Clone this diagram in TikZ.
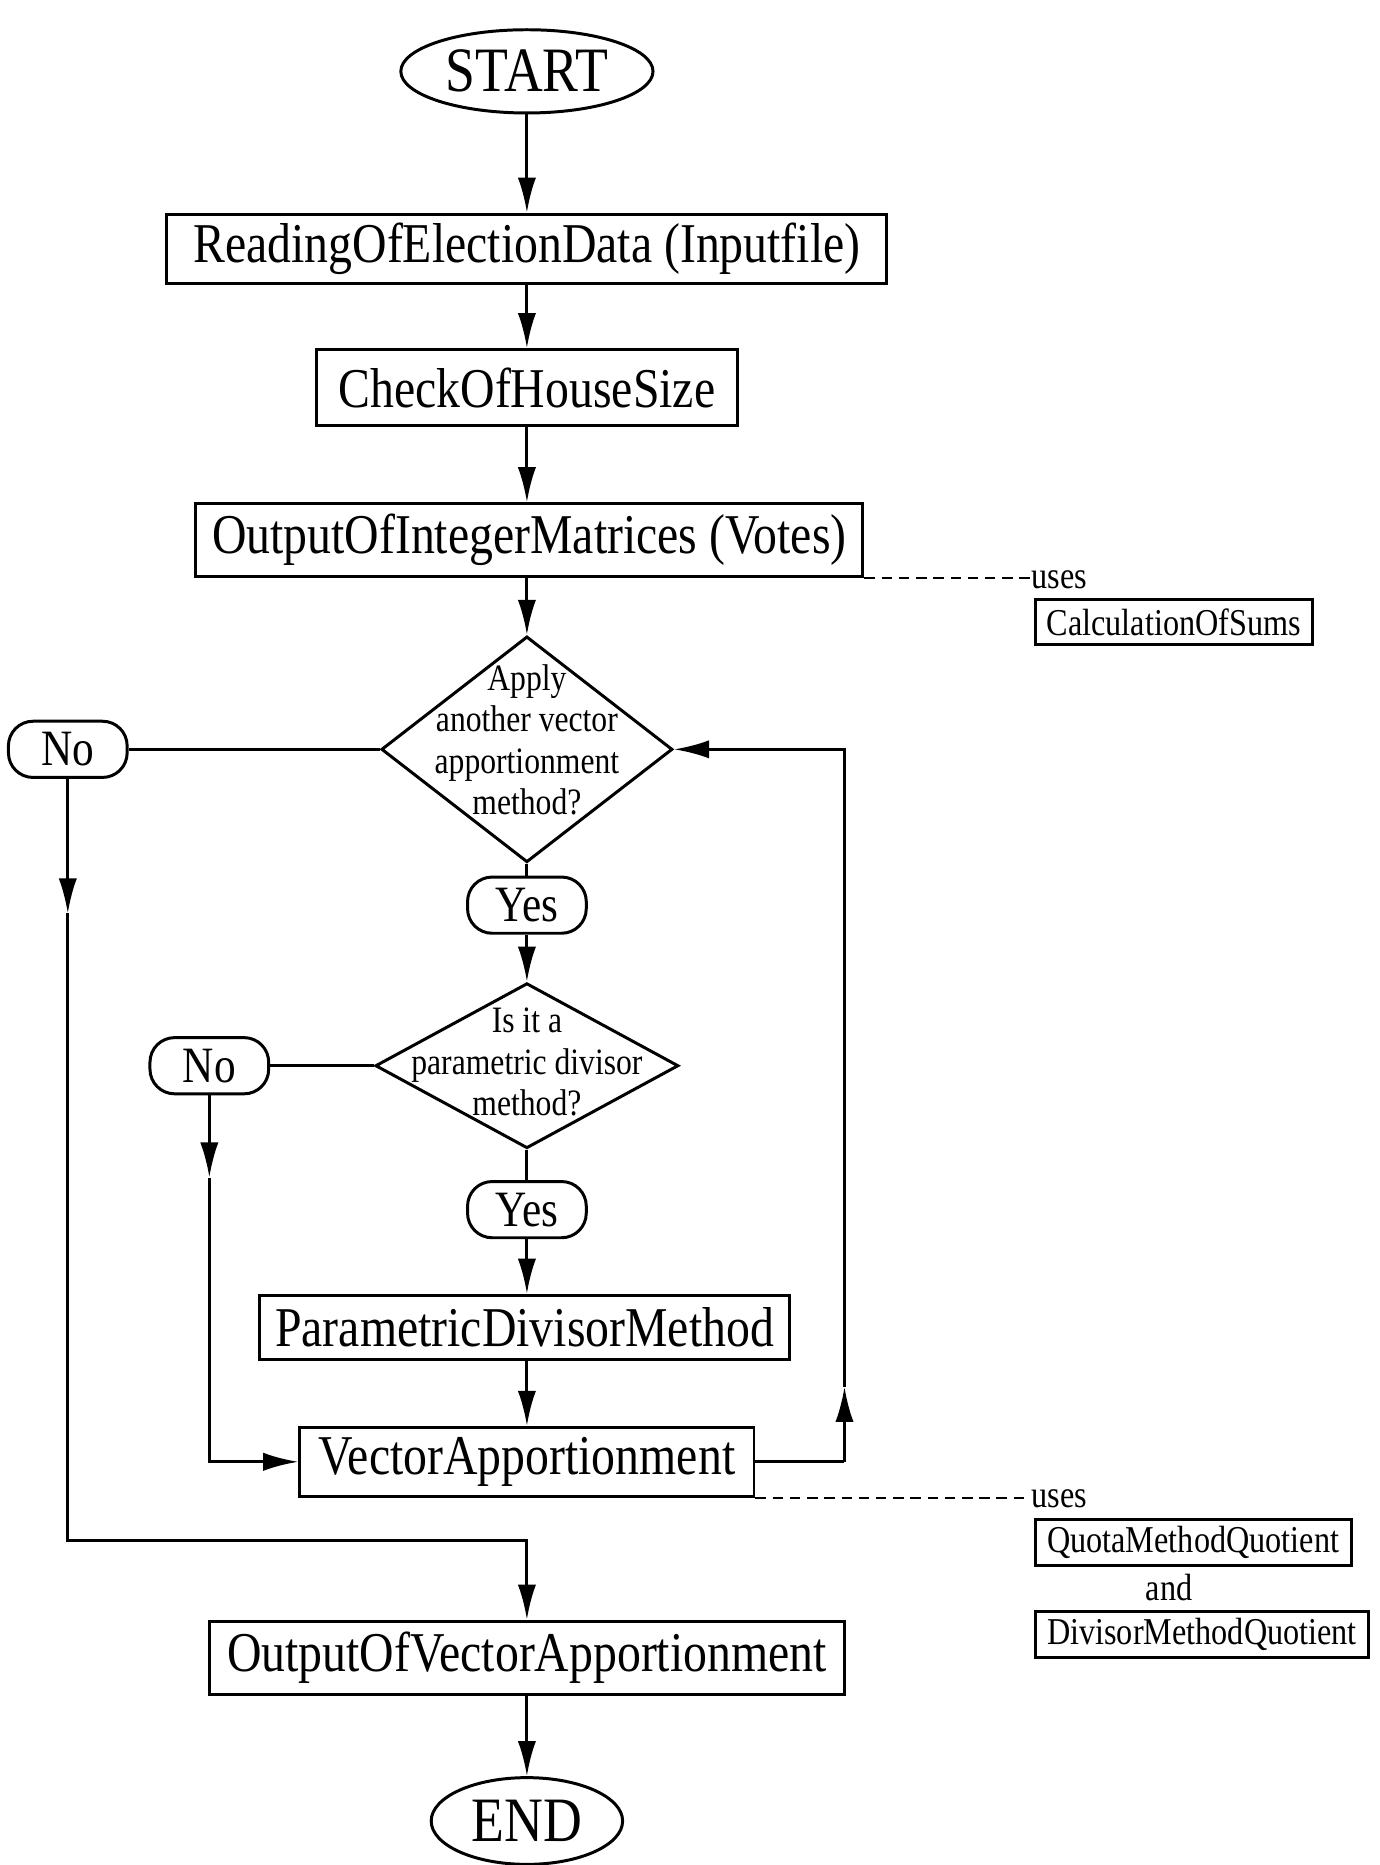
\documentclass[tikz,border=0pt]{standalone}
\usepackage{fontspec}
\setmainfont{Liberation Serif}[FakeStretch=0.85]
\usetikzlibrary{shapes.geometric,arrows.meta}

\begin{document}
\begin{tikzpicture}[x=0.011897cm,y=-0.011897cm,line width=0.85pt,
	proc/.style={draw,inner sep=0pt,font=\fontsize{16}{18}\selectfont},
	term/.style={draw,ellipse,inner sep=0pt,font=\fontsize{18}{20}\selectfont},
	ans/.style={draw,rounded corners=7pt,inner sep=0pt,minimum width=33.8pt,minimum height=16pt,font=\fontsize{14.5}{16}\selectfont},
	quest/.style={draw,diamond,inner sep=0pt},
	qtext/.style={align=center,inner sep=0pt,font=\fontsize{10.6}{11.8}\selectfont},
	aux/.style={draw,anchor=west,inner sep=0pt,minimum height=13pt,font=\fontsize{10.8}{12}\selectfont},
	note/.style={inner sep=0pt,font=\fontsize{10.8}{12}\selectfont},
	uselink/.style={line width=0.65pt,dash pattern=on 3pt off 1.9pt},
	arr/.style={-{Latex[length=10pt,width=5.2pt]}}]
	\useasboundingbox (0,0) rectangle (1160,1568);
	% main column
	\node[term,minimum width=71.8pt,minimum height=23.7pt] (start) at (443,60) {START};
	\node[proc,minimum width=205pt,minimum height=19.6pt] (read) at (443,209) {ReadingOfElectionData (Inputfile)};
	\node[proc,minimum width=119.8pt,minimum height=21.7pt] (check) at (443,326) {CheckOfHouseSize};
	\node[proc,minimum width=190pt,minimum height=20.6pt] (votes) at (445,454) {OutputOfIntegerMatrices (Votes)};
	\node[quest,minimum width=82.9pt,minimum height=64.3pt,label={[qtext,yshift=2.7pt]center:Apply\\another vector\\apportionment\\method?}] (apply) at (443,630) {};
	\node[ans] (no1) at (57,630) {No};
	\node[ans] (yes1) at (443,761) {Yes};
	\node[quest,minimum width=86.3pt,minimum height=47pt,label={[qtext,yshift=1pt]center:Is it a\\parametric divisor\\method?}] (param) at (443,896) {};
	\node[ans] (no2) at (176,896) {No};
	\node[ans] (yes2) at (443,1017) {Yes};
	\node[proc,minimum width=151pt,minimum height=18.3pt] (pdm) at (441,1116) {ParametricDivisorMethod};
	\node[proc,minimum width=129.3pt,minimum height=19.6pt] (va) at (443,1229) {VectorApportionment};
	\node[proc,minimum width=181pt,minimum height=21pt] (ova) at (443,1394) {OutputOfVectorApportionment};
	\node[term,minimum width=54.5pt,minimum height=24.7pt] (end) at (443,1531) {END};
	% helper routines
	\node[note,anchor=west] (uses1) at (866,487) {uses};
	\node[aux,minimum width=79pt] (sums) at (869,523) {CalculationOfSums};
	\node[note,anchor=west] (uses2) at (866,1260) {uses};
	\node[aux,minimum width=90pt] (quota) at (869,1297) {QuotaMethodQuotient};
	\node[note] (and) at (983,1335) {and};
	\node[aux,minimum width=95pt] (divq) at (869,1374) {DivisorMethodQuotient};
	% bends
	\coordinate (tip1) at (57,768);
	\coordinate (turn1) at (57,1295);
	\coordinate (tip2) at (176,990);
	\coordinate (turn3) at (710,1229);
	\coordinate (tip3) at (710,1166);
	% connectors
	\draw[arr] (start) -- (read);
	\draw[arr] (read) -- (check);
	\draw[arr] (check) -- (check.south |- votes.north);
	\draw[arr] (votes.south -| apply) -- (apply);
	\draw (apply) -- (yes1);
	\draw[arr] (yes1) -- (param);
	\draw (param) -- (yes2);
	\draw[arr] (yes2) -- (yes2.south |- pdm.north);
	\draw[arr] (pdm.south -| va) -- (va);
	\draw (apply) -- (no1);
	\draw (param) -- (no2);
	\draw[arr] (no1) -- (tip1);
	\draw[arr] (tip1) -- (turn1) -| (ova);
	\draw[arr] (no2) -- (tip2);
	\draw[arr] (tip2) |- (va);
	\draw (va) -- (turn3);
	\draw[arr] (turn3) -- (tip3);
	\draw[arr] (tip3) |- (apply);
	\draw[arr] (ova) -- (end);
	\draw[uselink] (votes.south east) -- (votes.south east -| uses1.west);
	\draw[uselink] (va.south east) -- (va.south east -| uses2.west);
\end{tikzpicture}
\end{document}
